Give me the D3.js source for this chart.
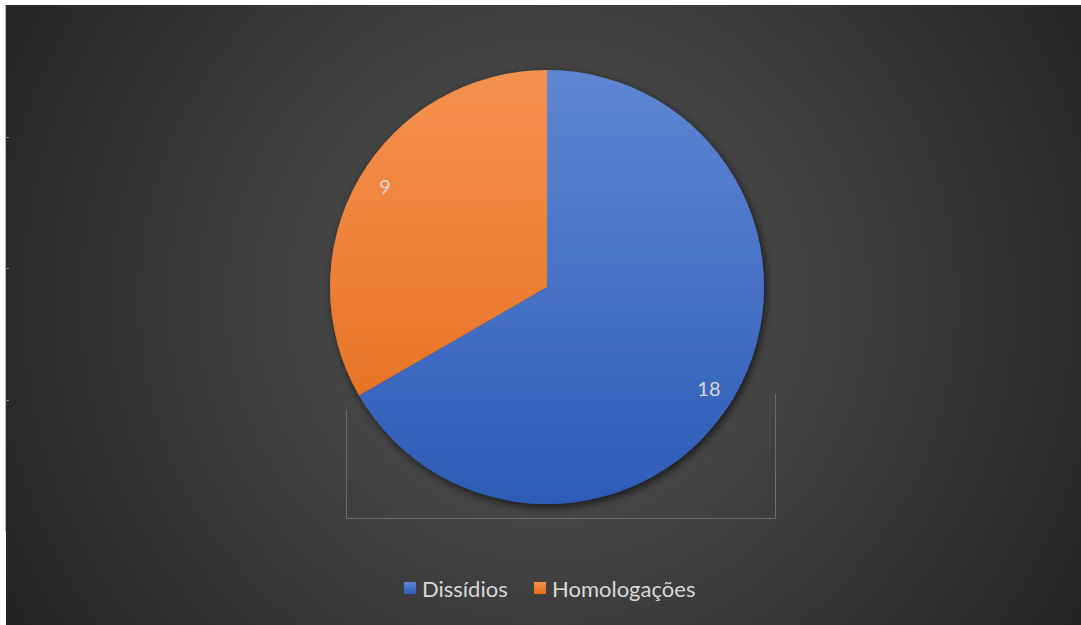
<!DOCTYPE html>
<html>
<head>
<meta charset="utf-8">
<script src="https://cdn.jsdelivr.net/npm/d3@7"></script>
<style>
  html, body { margin: 0; padding: 0; background: #ffffff; }
  svg { display: block; }
</style>
</head>
<body>
<svg id="chart" width="1081" height="625"></svg>
<script>
// Data
const categories = ["Dissídios", "Homologações"];
const values = [18, 9];
const sliceColors = [["#5f86d3", "#2d5cb7"], ["#f5914f", "#e46b19"]];

const W = 1081, H = 625;
const svg = d3.select("#chart");
const defs = svg.append("defs");

// Chart-area background: dark radial gradient
const bg = defs.append("radialGradient").attr("id", "bgGrad")
  .attr("gradientUnits", "userSpaceOnUse")
  .attr("cx", 548).attr("cy", 300).attr("r", 620);
bg.append("stop").attr("offset", "0%").attr("stop-color", "#535353");
bg.append("stop").attr("offset", "45%").attr("stop-color", "#404040");
bg.append("stop").attr("offset", "100%").attr("stop-color", "#242424");

svg.append("rect").attr("x", 6).attr("y", 5).attr("width", W - 6).attr("height", H - 5)
  .attr("fill", "url(#bgGrad)");

// thin frame line on the left edge with small ticks
svg.append("line").attr("x1", 5.5).attr("x2", 5.5).attr("y1", 5).attr("y2", 532)
  .attr("stroke", "#b8b8b8").attr("stroke-width", 1);
[137, 268, 400].forEach(y => {
  svg.append("line").attr("x1", 5).attr("x2", 9).attr("y1", y + 0.5).attr("y2", y + 0.5)
    .attr("stroke", "#8a8a8a").attr("stroke-width", 1);
});

// Plot-area box lines
const box = svg.append("g").attr("stroke", "#6b6b6b").attr("stroke-width", 1).attr("fill", "none");
box.append("line").attr("x1", 346.5).attr("x2", 346.5).attr("y1", 410).attr("y2", 518.5);
box.append("line").attr("x1", 775.5).attr("x2", 775.5).attr("y1", 394).attr("y2", 518.5);
box.append("line").attr("x1", 346.5).attr("x2", 775.5).attr("y1", 518.5).attr("y2", 518.5);

// Pie
const cx = 547, cy = 287, R = 217;

const shadow = defs.append("filter").attr("id", "pieShadow")
  .attr("x", "-20%").attr("y", "-20%").attr("width", "140%").attr("height", "140%");
shadow.append("feDropShadow").attr("dx", 2).attr("dy", 3).attr("stdDeviation", 4)
  .attr("flood-color", "#000").attr("flood-opacity", 0.65);

// vertical fill gradients in pie-local coordinates
sliceColors.forEach((c, i) => {
  const g = defs.append("linearGradient").attr("id", "slice" + i)
    .attr("gradientUnits", "userSpaceOnUse")
    .attr("x1", 0).attr("y1", -R).attr("x2", 0).attr("y2", R);
  g.append("stop").attr("offset", "0%").attr("stop-color", c[0]);
  g.append("stop").attr("offset", "100%").attr("stop-color", c[1]);
});

const pie = d3.pie().sort(null).value(d => d.value);
const arcs = pie(categories.map((name, i) => ({ name, value: values[i], i })));
const arc = d3.arc().innerRadius(0).outerRadius(R);

const pg = svg.append("g").attr("transform", `translate(${cx},${cy})`);
pg.append("g").attr("filter", "url(#pieShadow)")
  .selectAll("path").data(arcs).join("path")
  .attr("d", arc)
  .attr("fill", d => `url(#slice${d.data.i})`);

// value labels placed near the outer edge of each slice
const labelR = R * 0.88;
const labelShift = 0.035; // slight clockwise offset of the label anchor
function labelPos(d) {
  const a = (d.startAngle + d.endAngle) / 2 + labelShift;
  return [labelR * Math.sin(a), -labelR * Math.cos(a)];
}
pg.selectAll("text.val").data(arcs).join("text")
  .attr("class", "val")
  .attr("transform", d => `translate(${labelPos(d)})`)
  .attr("text-anchor", "middle")
  .attr("dominant-baseline", "central")
  .attr("font-family", "Lato, 'Open Sans', sans-serif")
  .attr("font-size", 20)
  .attr("fill", "#d9d9d9")
  .text(d => d.data.value);

// Legend
const legend = svg.append("g").attr("font-family", "Lato, 'Open Sans', sans-serif")
  .attr("font-size", 22).attr("fill", "#d9d9d9");
const legendX = [404, 534];
categories.forEach((name, i) => {
  const lg = defs.append("linearGradient").attr("id", "legend" + i)
    .attr("x1", 0).attr("y1", 0).attr("x2", 0).attr("y2", 1);
  lg.append("stop").attr("offset", "0%").attr("stop-color", sliceColors[i][0]);
  lg.append("stop").attr("offset", "100%").attr("stop-color", sliceColors[i][1]);
  const g = legend.append("g").attr("transform", `translate(${legendX[i]},582)`);
  g.append("rect").attr("width", 12).attr("height", 12).attr("fill", `url(#legend${i})`);
  g.append("text").attr("x", 18).attr("y", 15).text(name);
});
</script>
</body>
</html>
